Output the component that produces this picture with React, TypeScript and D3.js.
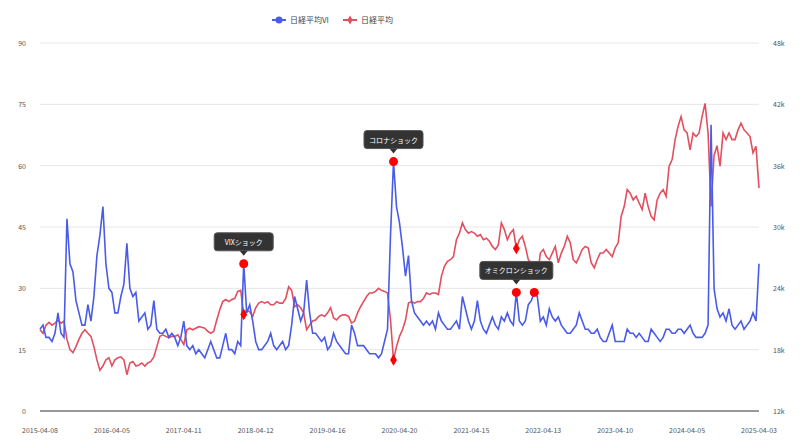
import React from 'react';
import * as d3 from 'd3';

// semi-monthly samples, 2015-04-08 .. 2025-04-03
const viValues = [
  20, 21, 18, 18, 17, 19, 24, 19, 18, 47, 36, 34, 27, 24, 21, 21, 26, 22, 28, 38, 43, 50, 36, 30,
  29, 24, 24, 28, 31, 41, 30, 28, 29, 22, 23, 24, 20, 21, 27, 20, 19, 19, 20, 18, 19, 18, 16, 18,
  22, 16, 15, 16, 14, 15, 14, 13, 15, 17, 15, 13, 13, 16, 19, 15, 15, 14, 17, 16, 36, 24, 26, 22,
  17, 15, 15, 16, 17, 19, 16, 15, 16, 17, 15, 16, 21, 28, 25, 22, 24, 32, 24, 19, 19, 18, 17, 18,
  15, 16, 19, 17, 16, 15, 14, 14, 21, 19, 16, 16, 16, 15, 14, 14, 14, 13, 14, 17, 20, 43, 61, 50,
  46, 40, 33, 38, 27, 24, 23, 22, 21, 22, 21, 22, 20, 24, 22, 21, 20, 20, 21, 22, 20, 28, 25, 22,
  20, 22, 27, 22, 20, 19, 21, 23, 21, 20, 23, 22, 24, 22, 21, 29, 22, 21, 22, 26, 27, 29, 28, 22,
  23, 21, 25, 23, 22, 23, 21, 20, 19, 19, 20, 21, 24, 22, 20, 20, 19, 19, 20, 18, 17, 17, 19, 21,
  17, 17, 17, 17, 20, 19, 19, 18, 19, 18, 17, 17, 20, 19, 18, 17, 18, 20, 20, 19, 19, 20, 20, 19,
  20, 21, 19, 18, 18, 18, 19, 21, 70, 30, 25, 23, 24, 22, 25, 21, 20, 21, 22, 20, 21, 22, 24, 22,
  36,
];

const nikkeiValues = [
  19950, 19600, 20400, 20670, 20400, 20600, 20900, 20600, 20800, 19000, 18000, 17700, 18300, 19000, 19600, 19950, 19600, 19300, 18300, 17000, 16000, 16400, 17000, 17200,
  16400, 17000, 17200, 17300, 17000, 15550, 16700, 16850, 16400, 16500, 16700, 16400, 16700, 16850, 17300, 18300, 19300, 19450, 19300, 19150, 19300, 19300, 19450, 19000,
  18500, 19950, 20100, 19950, 20100, 20250, 20200, 20100, 19800, 19600, 19800, 20900, 21900, 22700, 22900, 22700, 22900, 23000, 23700, 23800, 21450, 21900, 21700, 21250,
  22100, 22550, 22700, 22550, 22700, 22400, 22400, 22700, 22550, 22550, 23000, 24150, 23800, 22200, 22400, 22100, 21600, 19950, 20400, 20800, 20900, 21250, 21400, 21250,
  21600, 22100, 21100, 20900, 21250, 21400, 21400, 21250, 20600, 20800, 21600, 22200, 22700, 23200, 23550, 23550, 23700, 24000, 23800, 23700, 23550, 20900, 17000, 18300,
  19300, 19950, 20900, 22550, 22700, 22550, 22700, 22700, 23000, 23550, 23400, 23550, 23550, 23400, 25200, 26150, 26650, 26800, 27100, 28750, 29400, 30400, 29750, 29400,
  29550, 29400, 29100, 29250, 28750, 28900, 28600, 28100, 27800, 28250, 30400, 29750, 28750, 29400, 29750, 27900, 28750, 29100, 28100, 26800, 26500, 26000, 24850, 27450,
  27800, 27100, 26800, 27450, 28100, 26500, 27450, 28100, 29100, 28450, 26800, 26500, 27100, 27800, 28100, 27950, 26500, 26000, 26800, 27450, 27450, 27800, 27450, 27100,
  27950, 28450, 31050, 32000, 33650, 33300, 32650, 33000, 32350, 31700, 33300, 32000, 31050, 30700, 32650, 33300, 33650, 33000, 35950, 36600, 38550, 39850, 40800, 39500,
  39200, 37550, 39200, 38850, 39200, 40800, 42100, 39200, 32000, 37000, 37950, 35950, 39200, 38550, 39200, 38550, 38550, 39500, 40150, 39500, 39200, 38850, 37250, 37900,
  33800,
];

const tickLabels = [
  '2015-04-08', '2016-04-05', '2017-04-11', '2018-04-12', '2019-04-16', '2020-04-20',
  '2021-04-15', '2022-04-13', '2023-04-10', '2024-04-05', '2025-04-03',
];

const events = [
  { index: 68, label: 'VIXショック' },
  { index: 118, label: 'コロナショック' },
  { index: 159, label: 'オミクロンショック' },
  { index: 165, label: '' },
];

const viTicks = [0, 15, 30, 45, 60, 75, 90];
const nikkeiTicks = [12000, 18000, 24000, 30000, 36000, 42000, 48000];

const BLUE = '#4a5bea';
const RED = '#e2505f';
const FONT = '"Noto Sans CJK JP", "Noto Sans", sans-serif';

const App = () => {
  const width = 803;
  const height = 447;
  const left = 40;
  const right = 759;
  const top = 43;
  const bottom = 411;

  const n = viValues.length - 1;
  const x = d3.scaleLinear().domain([0, n]).range([left, right]);
  const yVi = d3.scaleLinear().domain([0, 90]).range([bottom, top]);
  const yNk = d3.scaleLinear().domain([12000, 48000]).range([bottom, top]);

  const viLine = d3.line<number>().x((_, i) => x(i)).y((d) => yVi(d));
  const nkLine = d3.line<number>().x((_, i) => x(i)).y((d) => yNk(d));

  const diamond = d3.symbol(d3.symbolDiamond, 40)() ?? '';

  return (
    <svg width={width} height={height} style={{ position: 'absolute', left: 0, top: 0 }} fontFamily={FONT}>
      {viTicks.map((t) => (
        <g key={t}>
          <line x1={left} x2={right} y1={yVi(t)} y2={yVi(t)} stroke={t === 0 ? '#333' : '#e6e6e6'} strokeWidth={1} />
          <text x={26} y={yVi(t) + 3} textAnchor="end" fontSize={7} fill="#555">{t}</text>
        </g>
      ))}
      {nikkeiTicks.map((t) => (
        <text key={t} x={773} y={yNk(t) + 3} fontSize={7} fill="#555">{`${t / 1000}k`}</text>
      ))}
      {tickLabels.map((lab, k) => (
        <text key={lab} x={x((n * k) / 10)} y={433} textAnchor="middle" fontSize={7} fill="#555">{lab}</text>
      ))}

      <path d={nkLine(nikkeiValues) ?? ''} fill="none" stroke={RED} strokeWidth={1.6} />
      <path d={viLine(viValues) ?? ''} fill="none" stroke={BLUE} strokeWidth={1.6} />

      {events.map((e) => (
        <g key={e.index}>
          <circle cx={x(e.index)} cy={yVi(viValues[e.index])} r={4.5} fill="#f00" />
          <path d={diamond} transform={`translate(${x(e.index)},${yNk(nikkeiValues[e.index])})`} fill="#f00" />
        </g>
      ))}

      {events.filter((e) => e.label).map((e) => {
        const cx = x(e.index);
        const cy = yVi(viValues[e.index]);
        const w = e.label.length * 7 + 10;
        const by = cy - 31;
        return (
          <g key={`t${e.index}`}>
            <rect x={cx - w / 2} y={by} width={w} height={18} rx={3} fill="#333" stroke="#555" />
            <path d={`M${cx - 4},${by + 18} L${cx},${by + 23} L${cx + 4},${by + 18} Z`} fill="#333" />
            <text x={cx} y={by + 12} textAnchor="middle" fontSize={7} fill="#fff">{e.label}</text>
          </g>
        );
      })}

      <g transform="translate(272,20)">
        <line x1={0} x2={14} y1={0} y2={0} stroke={BLUE} strokeWidth={2} />
        <circle cx={7} cy={0} r={3.5} fill={BLUE} />
        <text x={18} y={3} fontSize={8} fill="#444">日経平均VI</text>
        <line x1={71} x2={85} y1={0} y2={0} stroke={RED} strokeWidth={2} />
        <path d={d3.symbol(d3.symbolDiamond, 24)() ?? ''} transform="translate(78,0)" fill={RED} />
        <text x={89} y={3} fontSize={8} fill="#444">日経平均</text>
      </g>
    </svg>
  );
};

export default App;
